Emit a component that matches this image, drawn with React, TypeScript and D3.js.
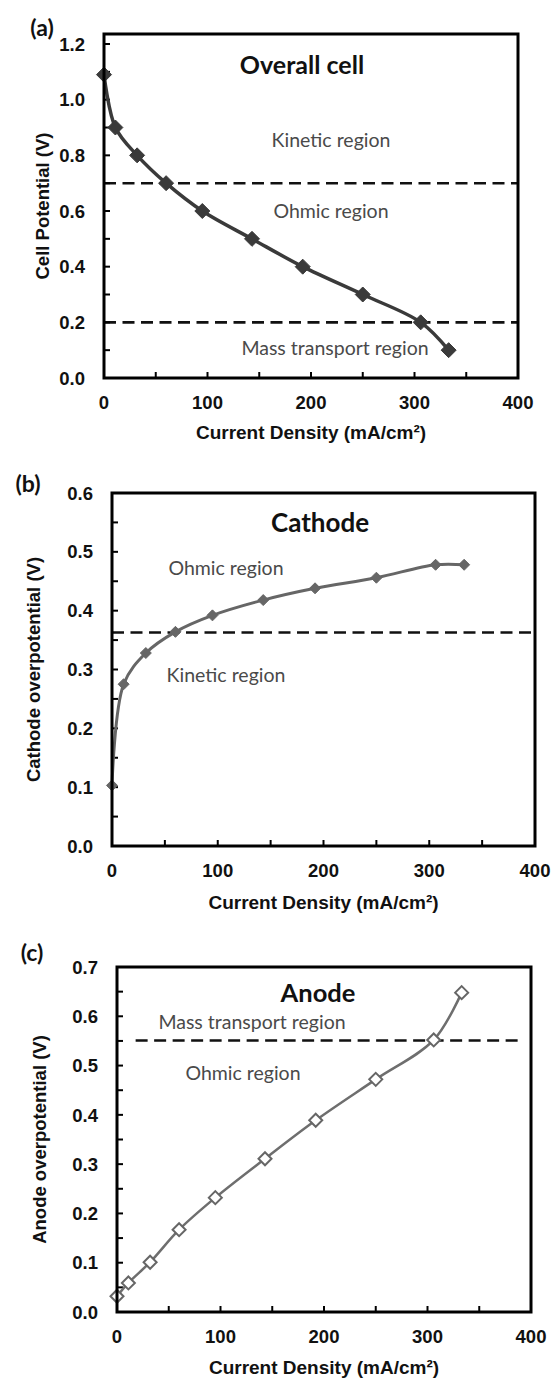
import React from "react";
import * as d3 from "d3";

// ---------- data ----------
const currentDensity = [0, 11, 32, 60, 95, 143, 192, 250, 306, 333];
const cellPotential = [1.09, 0.9, 0.8, 0.7, 0.6, 0.5, 0.4, 0.3, 0.2, 0.1];
const cathodeOverpotential = [0.103, 0.275, 0.328, 0.364, 0.392, 0.418, 0.438, 0.456, 0.478, 0.478];
const anodeOverpotential = [0.032, 0.059, 0.101, 0.167, 0.232, 0.311, 0.389, 0.472, 0.552, 0.648];

const xTicks = [0, 100, 200, 300, 400];
const xMinorTicks = [50, 150, 250, 350];
const cellTicks = [0, 0.2, 0.4, 0.6, 0.8, 1.0, 1.2];
const cellMinor = [0.1, 0.3, 0.5, 0.7, 0.9, 1.1];
const cathodeTicks = [0, 0.1, 0.2, 0.3, 0.4, 0.5, 0.6];
const cathodeMinor = [0.05, 0.15, 0.25, 0.35, 0.45, 0.55];
const anodeTicks = [0, 0.1, 0.2, 0.3, 0.4, 0.5, 0.6, 0.7];
const anodeMinor = [0.05, 0.15, 0.25, 0.35, 0.45, 0.55, 0.65];

const cellThresholds = [0.7, 0.2];
const cathodeThresholds = [0.363];
const anodeThresholds = [0.551];

const TICK_FONT = "'Liberation Sans', Arial, sans-serif";
const TEXT_FONT = "Lato, 'Open Sans', sans-serif";

type Label = { text: string; x: number; y: number; size: number; bold?: boolean; color?: string };

type PanelProps = {
  left: number; right: number; top: number; bottom: number;
  yMax: number;
  yTicks: number[]; yMinor: number[];
  ys: number[];
  thresholds: number[];
  dashX?: [number, number];
  lineColor: string; lineWidth: number;
  marker: { r: number; fill: string; stroke: string; sw: number };
  yTitle: string; yTitleX: number;
  xTitleY: number;
  letter: string; letterX: number; letterY: number;
  labels: Label[];
};

function Panel(p: PanelProps) {
  const x = d3.scaleLinear().domain([0, 400]).range([p.left, p.right]);
  const y = d3.scaleLinear().domain([0, p.yMax]).range([p.bottom, p.top]);
  const pts = currentDensity.map((d, i) => [d, p.ys[i]] as [number, number]);
  const line = d3.line<[number, number]>()
    .x((d) => x(d[0]))
    .y((d) => y(d[1]))
    .curve(d3.curveCatmullRom.alpha(0.5));
  const tl = 6;
  const dx0 = p.dashX ? x(p.dashX[0]) : p.left;
  const dx1 = p.dashX ? x(p.dashX[1]) : p.right;
  const midY = (p.top + p.bottom) / 2;
  const midX = (p.left + p.right) / 2;
  return (
    <g>
      {p.thresholds.map((t, i) => (
        <line key={"d" + i} x1={dx0} x2={dx1} y1={y(t)} y2={y(t)} stroke="#111" strokeWidth={2.6} strokeDasharray="12 6.5" />
      ))}
      {p.yTicks.map((t) => (
        <g key={"yt" + t}>
          <line x1={p.left} x2={p.left + tl} y1={y(t)} y2={y(t)} stroke="#000" strokeWidth={2} />
          <text x={p.left - 19} y={y(t)} dy="0.36em" textAnchor="end" fontFamily={TICK_FONT} fontWeight="bold" fontSize={18.5} fill="#111">
            {t.toFixed(1)}
          </text>
        </g>
      ))}
      {p.yMinor.map((t) => (
        <line key={"ym" + t} x1={p.left} x2={p.left + tl} y1={y(t)} y2={y(t)} stroke="#000" strokeWidth={2} />
      ))}
      {xTicks.map((t) => (
        <g key={"xt" + t}>
          <line x1={x(t)} x2={x(t)} y1={p.bottom} y2={p.bottom - tl} stroke="#000" strokeWidth={2} />
          <text x={x(t)} y={p.bottom + 24} dy="0.36em" textAnchor="middle" fontFamily={TICK_FONT} fontWeight="bold" fontSize={18.5} fill="#111">
            {t}
          </text>
        </g>
      ))}
      {xMinorTicks.map((t) => (
        <line key={"xm" + t} x1={x(t)} x2={x(t)} y1={p.bottom} y2={p.bottom - tl} stroke="#000" strokeWidth={2} />
      ))}
      <path d={line(pts) || ""} fill="none" stroke={p.lineColor} strokeWidth={p.lineWidth} />
      {pts.map((d, i) => {
        const cx = x(d[0]);
        const cy = y(d[1]);
        const r = p.marker.r;
        return (
          <path key={"m" + i} d={`M${cx},${cy - r}L${cx + r},${cy}L${cx},${cy + r}L${cx - r},${cy}Z`}
            fill={p.marker.fill} stroke={p.marker.stroke} strokeWidth={p.marker.sw} />
        );
      })}
      <rect x={p.left} y={p.top} width={p.right - p.left} height={p.bottom - p.top} fill="none" stroke="#000" strokeWidth={3} />
      {p.labels.map((l, i) => (
        <text key={"l" + i} x={l.x} y={l.y} dy="0.35em" textAnchor="middle" fontFamily={TEXT_FONT}
          fontWeight={l.bold ? "bold" : "normal"} fontSize={l.size} fill={l.color || "#111"}>
          {l.text}
        </text>
      ))}
      <text x={p.letterX} y={p.letterY} dy="0.35em" textAnchor="middle" fontFamily={TEXT_FONT} fontWeight="bold" fontSize={23} fill="#111">
        {p.letter}
      </text>
      <text transform={`translate(${p.yTitleX},${midY}) rotate(-90)`} dy="0.35em" textAnchor="middle" fontFamily={TICK_FONT} fontWeight="bold" fontSize={18.5} fill="#111">
        {p.yTitle}
      </text>
      <text x={midX} y={p.xTitleY} dy="0.35em" textAnchor="middle" fontFamily={TICK_FONT} fontWeight="bold" fontSize={19} fill="#111">
        Current Density (mA/cm²)
      </text>
    </g>
  );
}

export default function App() {
  const region = "#4a4a4a";
  return (
    <svg width={552} height={1379} style={{ position: "absolute", left: 0, top: 0, background: "#fff" }}>
      <rect width={552} height={1379} fill="#fff" />
      <Panel
        left={104} right={518} top={34} bottom={378} yMax={1.236}
        yTicks={cellTicks} yMinor={cellMinor} ys={cellPotential}
        thresholds={cellThresholds}
        lineColor="#3a3a3a" lineWidth={3.5}
        marker={{ r: 7.5, fill: "#3a3a3a", stroke: "#3a3a3a", sw: 1 }}
        yTitle="Cell Potential (V)" yTitleX={43} xTitleY={432}
        letter="(a)" letterX={42} letterY={28}
        labels={[
          { text: "Overall cell", x: 302, y: 65, size: 25, bold: true },
          { text: "Kinetic region", x: 331, y: 140, size: 19.5, color: region },
          { text: "Ohmic region", x: 331, y: 211, size: 19.5, color: region },
          { text: "Mass transport region", x: 335, y: 348, size: 19.5, color: region },
        ]}
      />
      <Panel
        left={112} right={535} top={493} bottom={846} yMax={0.6}
        yTicks={cathodeTicks} yMinor={cathodeMinor} ys={cathodeOverpotential}
        thresholds={cathodeThresholds}
        lineColor="#666" lineWidth={3}
        marker={{ r: 5.5, fill: "#666", stroke: "#666", sw: 1 }}
        yTitle="Cathode overpotential (V)" yTitleX={34} xTitleY={902}
        letter="(b)" letterX={28} letterY={484}
        labels={[
          { text: "Cathode", x: 320, y: 523, size: 26, bold: true },
          { text: "Ohmic region", x: 226, y: 568, size: 19.5, color: region },
          { text: "Kinetic region", x: 226, y: 675, size: 19.5, color: region },
        ]}
      />
      <Panel
        left={117} right={531} top={967} bottom={1312} yMax={0.7}
        yTicks={anodeTicks} yMinor={anodeMinor} ys={anodeOverpotential}
        thresholds={anodeThresholds} dashX={[18, 389]}
        lineColor="#6e6e6e" lineWidth={2.5}
        marker={{ r: 6.5, fill: "#fff", stroke: "#666", sw: 2 }}
        yTitle="Anode overpotential (V)" yTitleX={40} xTitleY={1367}
        letter="(c)" letterX={32} letterY={953}
        labels={[
          { text: "Anode", x: 318, y: 993, size: 25.5, bold: true },
          { text: "Mass transport region", x: 252, y: 1022, size: 19.5, color: region },
          { text: "Ohmic region", x: 243, y: 1073, size: 19.5, color: region },
        ]}
      />
    </svg>
  );
}
